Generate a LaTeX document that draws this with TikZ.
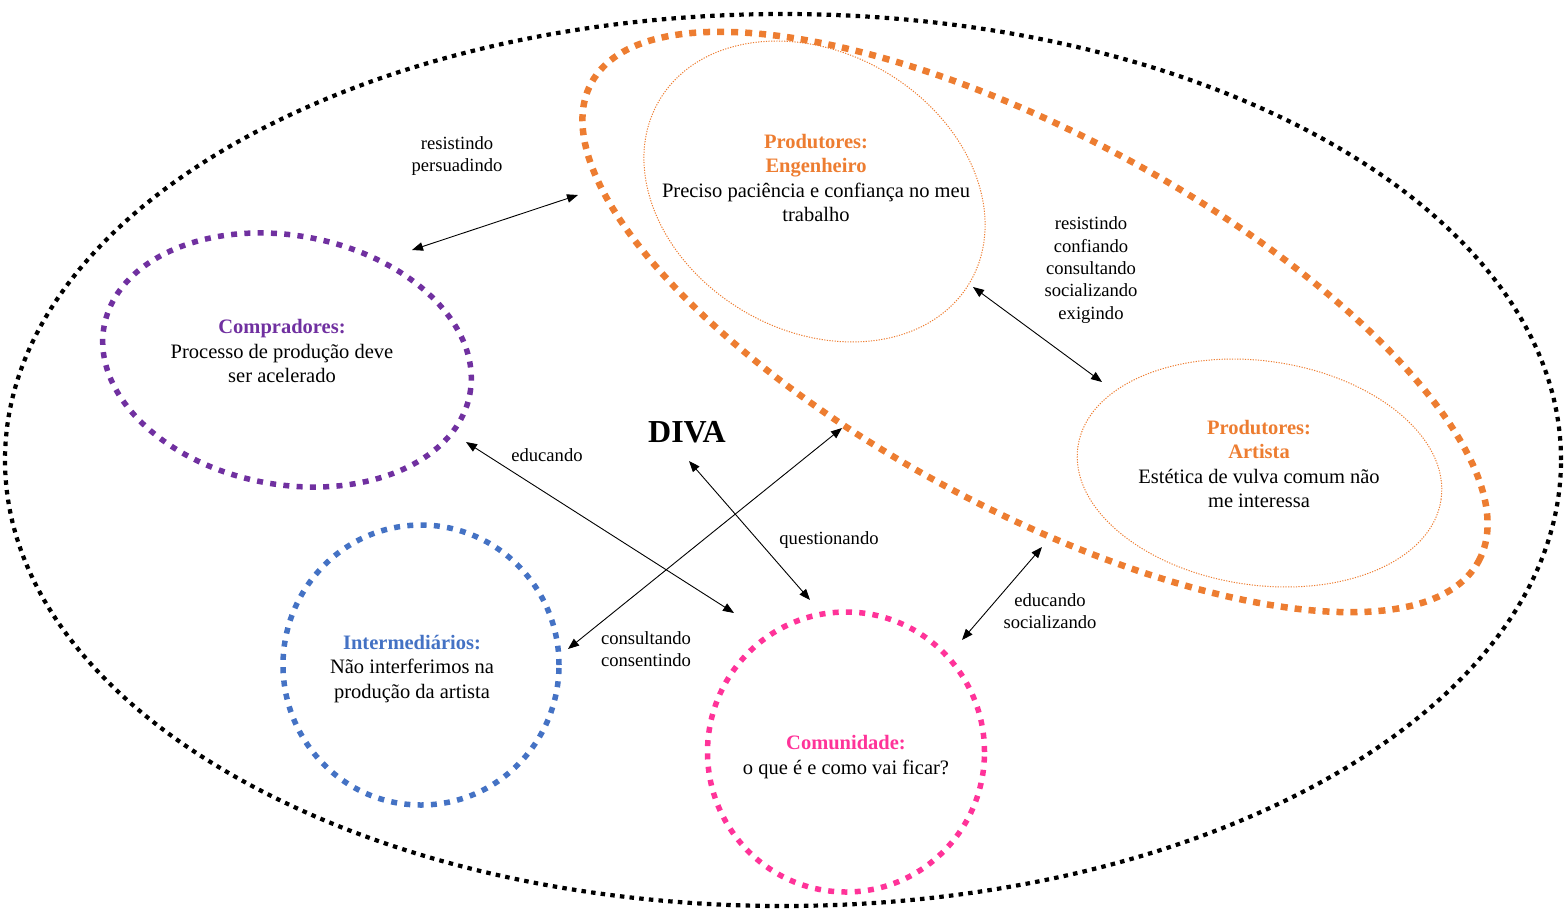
\documentclass[tikz,border=0pt]{standalone}
\usepackage{fontspec}
\setmainfont{Liberation Serif}
\usetikzlibrary{shapes.geometric,arrows.meta}
\definecolor{corange}{HTML}{ED7D31}
\definecolor{cpurple}{HTML}{7030A0}
\definecolor{cblue}{HTML}{4472C4}
\definecolor{cpink}{HTML}{FF3399}
\tikzset{
  shapebox/.style={ellipse, inner sep=0pt, outer sep=0pt},
  outerline/.style={shapebox, draw=black, line width=4.2pt, dash pattern=on 4.5pt off 5.2pt},
  groupline/.style={shapebox, draw=corange, line width=6.5pt, dash pattern=on 7pt off 7pt},
  actorline/.style={shapebox, line width=5.5pt, dash pattern=on 6pt off 7.3pt},
  thinline/.style={shapebox, draw=corange, line width=1pt, dash pattern=on 1.2pt off 1.4pt},
  maintext/.style={align=center, inner sep=0pt, font=\rmfamily\fontsize{20.5}{24.6}\selectfont},
  labeltext/.style={align=center, inner sep=0pt, font=\rmfamily\fontsize{18.6}{22.3}\selectfont},
  biarrow/.style={draw=black, line width=0.9pt, {Triangle[length=11pt,width=8.5pt]}-{Triangle[length=11pt,width=8.5pt]}}
}
\begin{document}
\begin{tikzpicture}[x=1pt,y=1pt]
\useasboundingbox (0,0) rectangle (1565,-908);
% shapes
\node[outerline, minimum width=1556pt, minimum height=892pt] (world) at (783,-460) {};
\node[groupline, minimum width=1008pt, minimum height=374pt, rotate=-28.3] (producers) at (1035,-322) {};
\node[actorline, draw=cpurple, minimum width=372pt, minimum height=249pt, rotate=-10.5] (buyers) at (287,-360) {};
\node[actorline, draw=cblue, minimum width=276pt, minimum height=280pt] (middle) at (421,-665) {};
\node[actorline, draw=cpink, minimum width=277pt, minimum height=280pt] (community) at (846,-752) {};
\node[thinline, minimum width=360pt, minimum height=278pt, rotate=-30.2] (engineer) at (814.5,-191.5) {};
\node[thinline, minimum width=367pt, minimum height=224pt, rotate=-8.3] (artist) at (1259.5,-473) {};
% texts
\node[maintext] (tengineer) at (816,-178) {\textcolor{corange}{\bfseries Produtores:}\\\textcolor{corange}{\bfseries Engenheiro}\\Preciso paciência e confiança no meu\\trabalho};
\node[maintext] (tartist) at (1259,-464) {\textcolor{corange}{\bfseries Produtores:}\\\textcolor{corange}{\bfseries Artista}\\Estética de vulva comum não\\me interessa};
\node[maintext] (tbuyers) at (282,-351) {\textcolor{cpurple}{\bfseries Compradores:}\\Processo de produção deve\\ser acelerado};
\node[maintext] (tmiddle) at (412,-669) {\textcolor{cblue}{\bfseries Intermediários:}\\Não interferimos na\\produção da artista};
\node[maintext] (tcommunity) at (846,-757) {\textcolor{cpink}{\bfseries Comunidade:}\\o que é e como vai ficar?};
\node[inner sep=0pt, font=\rmfamily\fontsize{32}{36}\selectfont\bfseries] (diva) at (687,-432) {DIVA};
% labels
\node[labeltext] (l1) at (457,-156) {resistindo\\persuadindo};
\node[labeltext] (l2) at (1091,-270) {resistindo\\confiando\\consultando\\socializando\\exigindo};
\node[labeltext] (l3) at (547,-455) {educando};
\node[labeltext] (l4) at (829,-540) {questionando};
\node[labeltext] (l5) at (646,-649) {consultando\\consentindo};
\node[labeltext] (l6) at (1050,-611) {educando\\socializando};
% connector ends
\coordinate (a1s) at (412,-250); \coordinate (a1e) at (578,-195);
\coordinate (a2s) at (973,-287); \coordinate (a2e) at (1102,-382);
\coordinate (a3s) at (466,-442); \coordinate (a3e) at (734,-613);
\coordinate (a4s) at (568,-649); \coordinate (a4e) at (842,-428);
\coordinate (a5s) at (689,-461); \coordinate (a5e) at (810,-600);
\coordinate (a6s) at (962,-640); \coordinate (a6e) at (1042,-547);
\draw[biarrow] (a1s) -- (a1e);
\draw[biarrow] (a2s) -- (a2e);
\draw[biarrow] (a3s) -- (a3e);
\draw[biarrow] (a4s) -- (a4e);
\draw[biarrow] (a5s) -- (a5e);
\draw[biarrow] (a6s) -- (a6e);
\end{tikzpicture}
\end{document}
